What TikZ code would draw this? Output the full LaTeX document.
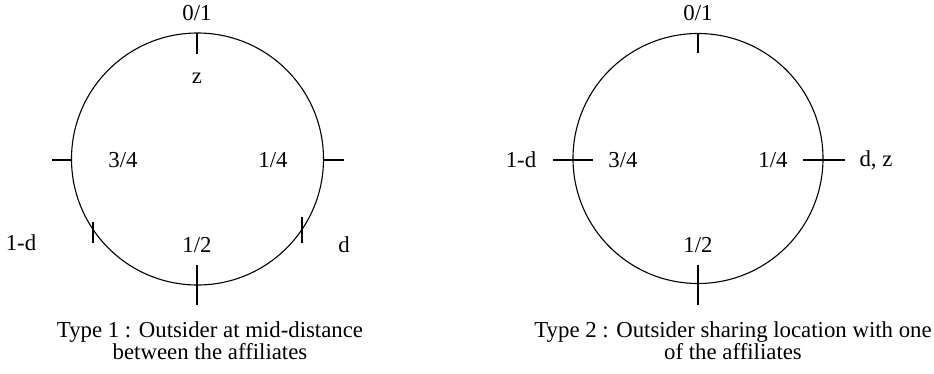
\documentclass[tikz,border=0pt]{standalone}
\usepackage{fontspec}
\setmainfont{Liberation Serif}
\begin{document}
\begin{tikzpicture}[x=1pt,y=-1pt,
  lbl/.style={inner sep=0pt,font=\fontsize{22.8}{22}\selectfont},
  caption/.style={inner sep=0pt,align=center,font=\fontsize{22.8}{22}\selectfont},
  tick/.style={line width=1.4pt},
  ring/.style={line width=1.1pt}]
\useasboundingbox (0,0) rectangle (934,373);

% Type 1
\draw[ring] (197.5,159) circle (126);
\draw[tick] (197,33) -- (197,54);
\draw[tick] (52,160) -- (72,160);
\draw[tick] (323,160) -- (344,160);
\draw[tick] (197,265) -- (197,305);
\draw[tick] (93,222) -- (93,243);
\draw[tick] (302,217) -- (302,243);
\node[lbl] (a0) at (197,13) {0/1};
\node[lbl] (az) at (197,78) {z};
\node[lbl] (a3) at (123,160) {3/4};
\node[lbl] (a1) at (273,160) {1/4};
\node[lbl] (a2) at (197,245) {1/2};
\node[lbl] (ad) at (344,245) {d};
\node[lbl] (amd) at (21,243) {1-d};
\node[caption] (acap) at (210,341) {Type 1 : Outsider at mid-distance\\between the affiliates};

% Type 2
\draw[ring] (698,158.5) circle (125);
\draw[tick] (698,33) -- (698,53);
\draw[tick] (553,160) -- (593,160);
\draw[tick] (803,160) -- (845,160);
\draw[tick] (698,265) -- (698,305);
\node[lbl] (b0) at (698,13) {0/1};
\node[lbl] (b3) at (623,160) {3/4};
\node[lbl] (b1) at (773,160) {1/4};
\node[lbl] (b2) at (698,245) {1/2};
\node[lbl] (bmd) at (521,160) {1-d};
\node[lbl] (bdz) at (876,160) {d, z};
\node[caption] (bcap) at (733,341) {Type 2 : Outsider sharing location with one\\of the affiliates};

\end{tikzpicture}
\end{document}
